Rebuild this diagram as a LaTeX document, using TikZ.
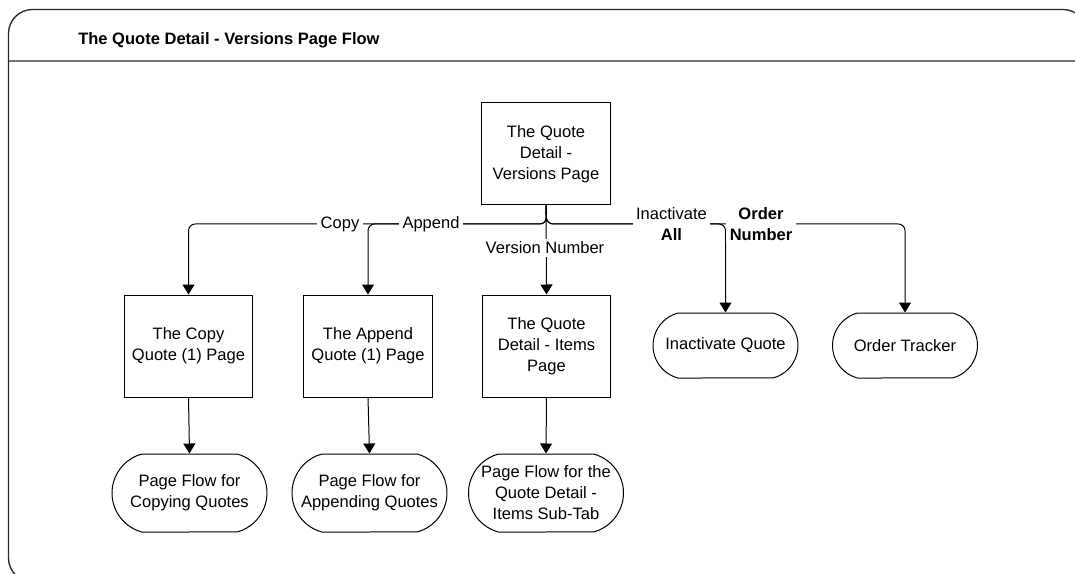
\documentclass[tikz,border=0pt]{standalone}
\usepackage{fontspec}
\setmainfont{Liberation Sans}
\usetikzlibrary{arrows.meta,shapes.misc}
\begin{document}
\begin{tikzpicture}[x=0.75pt,y=-0.75pt,
  font=\fontsize{12.4pt}{15.75pt}\selectfont,
  pagebox/.style={draw, line width=0.75pt, minimum width=96.5pt, minimum height=76.5pt, align=center, inner sep=0pt},
  termbig/.style={draw, rounded rectangle, rounded rectangle arc length=150, line width=0.75pt, minimum width=116.25pt, minimum height=58.5pt, align=center, inner sep=0pt},
  termsmall/.style={draw, rounded rectangle, rounded rectangle arc length=150, line width=0.75pt, minimum width=108.75pt, minimum height=48.75pt, align=center, inner sep=0pt},
  conn/.style={line width=0.75pt, -{Triangle[length=7.5pt,width=9pt]}, rounded corners=5pt},
  lbl/.style={fill=white, inner sep=2.5pt, align=center},
]
\useasboundingbox (0,0) rectangle (1075,574);
\clip (0,0) rectangle (1075,574);
\draw[line width=1pt, black!85, rounded corners=18pt] (8.5,9.5) rectangle (1087,582);
\draw[line width=1.4pt, black!55] (8.5,61) -- (1075,61);
\node[anchor=base west, inner sep=0pt, font=\fontsize{12.4pt}{15pt}\selectfont\bfseries] (title) at (78,45) {The Quote Detail - Versions Page Flow};

\node[pagebox] (top) at (546,154) {The Quote\\Detail -\\Versions Page};
\node[pagebox] (copy) at (188.5,346) {The Copy\\Quote (1) Page};
\node[pagebox] (append) at (368,346) {The Append\\Quote (1) Page};
\node[pagebox] (items) at (546.5,346) {The Quote\\Detail - Items\\Page};
\node[termbig] (pfcopy) at (189.5,493) {Page Flow for\\Copying Quotes};
\node[termbig] (pfappend) at (369.5,493) {Page Flow for\\Appending Quotes};
\node[termbig] (pfitems) at (546,493) {Page Flow for the\\Quote Detail -\\Items Sub-Tab};
\node[termsmall] (inact) at (725.5,345.5) {Inactivate Quote};
\node[termsmall] (order) at (905,345.5) {Order Tracker};

\coordinate (j) at (546.5,224);
\draw[conn] (top.south) -- (j) -| (copy.north);
\draw[conn] (top.south) -- (j) -| (append.north);
\draw[conn] (top.south) -- (j) -| (order.north);
\draw[conn] (top.south) -- (j) -| (inact.north);
\draw[conn] (top.south) -- (items.north);
\draw[conn] (copy.south) -- (pfcopy.north);
\draw[conn] (append.south) -- (pfappend.north);
\draw[conn] (items.south) -- (pfitems.north);

\node[lbl] (lcopy) at (340,224) {Copy};
\node[lbl] (lappend) at (431,224) {Append};
\node[lbl] (lver) at (545,248) {Version Number};
\node[lbl] (linact) at (671.5,224) {Inactivate\\\textbf{All}};
\node[lbl] (lorder) at (761,224) {\textbf{Order}\\\textbf{Number}};
\end{tikzpicture}
\end{document}
